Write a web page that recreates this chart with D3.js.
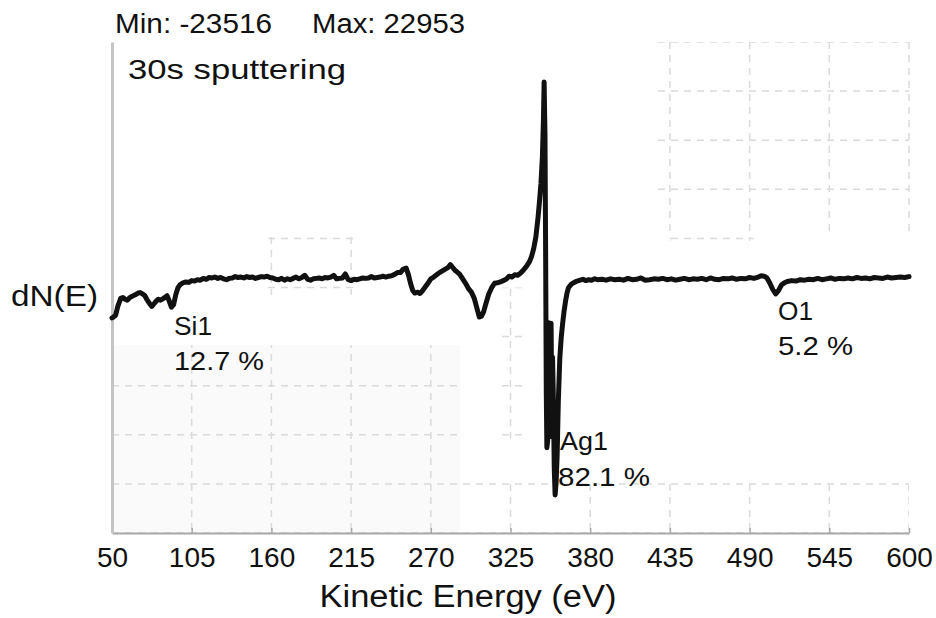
<html>

<head>
    <script src="https://cdnjs.cloudflare.com/ajax/libs/d3/7.8.5/d3.min.js"></script>
    <style>
        body {
            margin: 0;
            background: #ffffff;
            font-family: "Liberation Sans", Arial, Helvetica, sans-serif;
        }

        #Spectrum {
            display: block;
        }
    </style>
</head>

<body>
    <svg id="Spectrum"></svg>
</body>

<script>
    // Kinetic energy (eV) of each sample
    let energy = [
        50, 51, 52.5, 54, 56, 57.5, 59, 60.5, 62, 64,
        66, 68, 69.5, 71, 72.5, 74, 76, 77.5, 79, 80.5,
        82, 83.5, 85, 86.5, 88, 89.5, 91, 92.5, 94, 95.5,
        97, 99, 101, 103, 105, 107, 109, 111, 113, 115,
        117, 119, 121, 123, 125, 127, 129, 131, 133, 135,
        137, 139, 141, 143, 145, 147, 149, 151, 153, 155,
        157, 159, 161, 163, 165, 167, 169, 171, 173, 175,
        177, 179, 181, 183, 185, 187, 189, 191, 193, 195,
        197, 199, 201, 203, 205, 207, 209, 211, 213, 215,
        217, 219, 221, 223, 225, 227, 229, 231, 233, 235,
        237, 239, 241, 243, 245, 247, 249, 251, 253, 254.5,
        256, 257.5, 259, 261, 262.5, 264, 266, 268, 270, 272,
        274, 276, 278, 280, 282, 283.5, 285, 286.5, 288, 290,
        292, 294, 296, 298, 300, 302, 303.5, 305, 306.5, 308,
        310, 312, 314, 316, 318, 320, 322, 324, 326, 328,
        330, 332, 334, 336, 338, 339.5, 341, 342.5, 344, 345,
        346, 347, 347.7, 348.2, 348.8, 349.3, 349.7, 350.1, 350.6, 351,
        351.5, 352, 352.5, 353, 353.5, 354, 354.5, 355.2, 355.8, 356.5,
        357.2, 358, 359, 360, 361, 362, 363, 364, 365, 367,
        369, 371, 373, 375, 377, 379, 381, 383, 385, 388,
        391, 394, 397, 400, 403, 406, 409, 412, 415, 418,
        421, 424, 427, 430, 433, 436, 439, 442, 445, 448,
        451, 454, 457, 460, 463, 466, 469, 472, 475, 478,
        481, 484, 487, 490, 493, 496, 498, 500, 502, 504,
        506, 508, 510, 512, 514, 516, 519, 522, 525, 528,
        531, 534, 537, 540, 543, 546, 549, 552, 555, 558,
        561, 564, 567, 570, 573, 576, 579, 582, 585, 588,
        591, 594, 597, 600
    ]

    // dN(E) counts at each energy above
    let dNE = [
        -3600, -3500, -3300, -2300, -1400, -1300, -1500, -1600, -1350, -1150,
        -1000, -800, -750, -900, -1050, -1500, -2000, -2300, -2000, -1700,
        -1500, -1600, -1450, -1300, -1100, -1700, -2400, -2100, -1000, -200,
        150, 350, 450, 400, 600, 550, 700, 650, 850, 750,
        950, 900, 1000, 850, 950, 800, 700, 850, 900, 1050,
        950, 1000, 900, 1050, 950, 1000, 850, 950, 1050, 1000,
        1100, 950, 900, 750, 700, 850, 650, 800, 700, 850,
        1000, 800, 950, 1200, 750, 650, 800, 850, 900, 800,
        950, 900, 1000, 1200, 800, 850, 900, 1350, 700, 600,
        750, 700, 800, 900, 850, 900, 1050, 900, 950, 1000,
        1100, 1000, 1100, 1150, 1300, 1500, 1500, 1900, 2000, 1300,
        300, -500, -800, -700, -850, -600, -150, 300, 800, 1000,
        1250, 1500, 1700, 1900, 2100, 2400, 2100, 1800, 1600, 1300,
        800, 300, -300, -700, -1400, -2600, -3500, -3400, -2900, -2000,
        -900, -200, 300, 350, 450, 600, 750, 1100, 1000, 1250,
        1200, 1450, 1800, 2200, 2700, 3300, 4200, 5500, 7700, 9500,
        11500, 14500, 18500, 22953, 17000, 2000, -12000, -18200, -17500, -4100,
        -5000, -17000, -6000, -4200, -14000, -8000, -12000, -20500, -23516, -22000,
        -19000, -13000, -8200, -5800, -4200, -2800, -1700, -800, -200, 200,
        400, 550, 650, 750, 600, 700, 650, 800, 700, 750,
        650, 800, 700, 750, 650, 850, 700, 750, 900, 650,
        700, 800, 750, 850, 700, 800, 650, 750, 850, 700,
        800, 750, 850, 700, 900, 750, 700, 850, 800, 900,
        750, 850, 800, 950, 850, 1000, 1150, 1100, 900, 300,
        -400, -900, -500, 100, 350, 500, 600, 550, 700, 650,
        750, 700, 850, 700, 800, 900, 750, 850, 800, 900,
        800, 950, 850, 900, 800, 950, 900, 850, 1000, 900,
        950, 1000, 950, 1050
    ]

    let xTicks = [50, 105, 160, 215, 270, 325, 380, 435, 490, 545, 600]
    let yExtent = [-27800, 27450]

    let peakNames = ["Si1", "Ag1", "O1"]
    let peakPercents = ["12.7 %", "82.1 %", "5.2 %"]
    let peakEnergies = [92.8, 359.2, 509.6]

    let minValue = -23516
    let maxValue = 22953

    function getConfig() {
        let width = 936
        let height = 618
        let margin = { top: 42, bottom: 85, left: 112, right: 27 }
        let bodyWidth = width - margin.left - margin.right
        let bodyHeight = height - margin.top - margin.bottom

        let container = d3.select("#Spectrum")
        container.attr("width", width).attr("height", height)

        return { width, height, margin, bodyWidth, bodyHeight, container }
    }

    function getScales(config) {
        let { margin, bodyWidth, bodyHeight } = config
        let xScale = d3.scaleLinear()
            .domain([xTicks[0], xTicks[xTicks.length - 1]])
            .range([margin.left, margin.left + bodyWidth])
        let yScale = d3.scaleLinear()
            .domain(yExtent)
            .range([margin.top + bodyHeight, margin.top])
        return { xScale, yScale }
    }

    // faint dashed grid that only survives in a few patches of the scan
    function drawGhostGrid(scales, config) {
        let { container, margin, bodyWidth, bodyHeight } = config
        let { xScale } = scales
        let colW = bodyWidth / 10
        let rowH = bodyHeight / 10
        // patches in grid cells: [col0, row0, col1, row1]
        let patches = [
            [6.8, 0, 10.1, 3.9],
            [7, 3.9, 8.05, 4.05],
            [1.9, 3.97, 3.05, 5.15],
            [0, 6.17, 4.37, 10],
            [4.87, 5, 5.15, 8.07],
            [0, 8.9, 10, 10]
        ]
        let rects = patches.map(p => ({
            x: margin.left + p[0] * colW,
            y: margin.top + p[1] * rowH,
            w: (p[2] - p[0]) * colW,
            h: (p[3] - p[1]) * rowH
        }))

        container.append("clipPath").attr("id", "ghost")
            .selectAll("rect").data(rects).enter().append("rect")
            .attr("x", d => d.x).attr("y", d => d.y)
            .attr("width", d => d.w).attr("height", d => d.h)

        container.append("g").selectAll("rect").data(rects.slice(3, 4)).enter().append("rect")
            .attr("x", d => d.x).attr("y", d => d.y)
            .attr("width", d => d.w).attr("height", d => d.h)
            .attr("fill", "#fafafa")

        let grid = container.append("g").attr("clip-path", "url(#ghost)")
            .attr("stroke", "#dadada").attr("stroke-width", 1.5)
            .attr("stroke-dasharray", "7,6")
        grid.selectAll(".vline").data(xTicks).enter().append("line")
            .attr("x1", d => xScale(d)).attr("x2", d => xScale(d))
            .attr("y1", margin.top).attr("y2", margin.top + bodyHeight)
        grid.selectAll(".hline").data(d3.range(11)).enter().append("line")
            .attr("x1", margin.left).attr("x2", margin.left + bodyWidth)
            .attr("y1", d => margin.top + d * rowH).attr("y2", d => margin.top + d * rowH)
    }

    function drawAxes(scales, config) {
        let { container, margin, bodyHeight } = config
        let { xScale, yScale } = scales

        let axisX = d3.axisBottom(xScale)
            .tickValues(xTicks)
            .tickSizeInner(-5)
            .tickSizeOuter(0)
            .tickPadding(14)
        let gx = container.append("g")
            .attr("transform", `translate(0,${margin.top + bodyHeight})`)
            .call(axisX)
        gx.select(".domain").attr("stroke", "#a8a8a8").attr("stroke-width", 2)
        gx.selectAll(".tick line").attr("stroke", "#a8a8a8").attr("stroke-width", 1.5)
        gx.selectAll(".tick text")
            .attr("fill", "#111")
            .style("font-size", "28px")
            .style("font-family", "'Liberation Sans', Arial, sans-serif")

        let axisY = d3.axisLeft(yScale).tickValues([]).tickSizeOuter(0)
        let gy = container.append("g")
            .attr("transform", `translate(${margin.left},0)`)
            .call(axisY)
        gy.select(".domain").attr("stroke", "#c4c4c4").attr("stroke-width", 3)
    }

    function drawSpectrum(scales, config) {
        let { container } = config
        let { xScale, yScale } = scales
        let points = energy.map((e, i) => [e, dNE[i]])
        let line = d3.line()
            .x(d => xScale(d[0]))
            .y(d => yScale(d[1]))
        container.append("path")
            .datum(points)
            .attr("d", line)
            .attr("fill", "none")
            .attr("stroke", "#111")
            .attr("stroke-width", 5)
            .attr("stroke-linejoin", "round")
            .attr("stroke-linecap", "round")
    }

    function addText(container, str, x, y, size, len, anchor) {
        let t = container.append("text")
            .attr("x", x).attr("y", y)
            .attr("fill", "#111")
            .style("font-size", size + "px")
            .attr("text-anchor", anchor || "start")
            .text(str)
        if (len) t.attr("textLength", len).attr("lengthAdjust", "spacingAndGlyphs")
        return t
    }

    function drawLabels(scales, config) {
        let { container } = config
        let { xScale } = scales

        addText(container, "Min: " + minValue, 115, 33, 27, 157)
        addText(container, "Max: " + maxValue, 312, 33, 27, 153)
        addText(container, "30s sputtering", 128, 79, 28, 218)
        addText(container, "dN(E)", 11, 306, 30, 87)
        addText(container, "Kinetic Energy (eV)", 468, 607, 31, 297, "middle")

        // peak annotations: name line and percentage line under it
        let nameY = [335, 450, 320]
        let pctY = [370, 486, 355]
        let nameLen = [38, 48, 35]
        let pctLen = [90, 92, 75]
        peakNames.forEach((name, i) => {
            let x = xScale(peakEnergies[i])
            addText(container, name, x, nameY[i], 26, nameLen[i])
            addText(container, peakPercents[i], x - (i == 1 ? 2 : 0), pctY[i], 26, pctLen[i])
        })
    }

    function showChart() {
        let config = getConfig()
        let scales = getScales(config)
        drawGhostGrid(scales, config)
        drawAxes(scales, config)
        drawSpectrum(scales, config)
        drawLabels(scales, config)
    }

    showChart()
</script>

</html>
